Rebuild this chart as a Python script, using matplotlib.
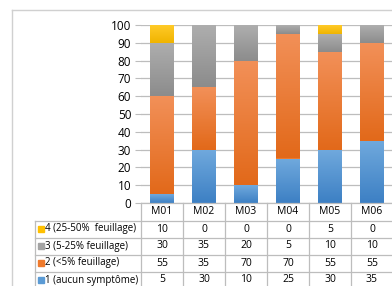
import numpy as np
import matplotlib
matplotlib.use("Agg")
import matplotlib.pyplot as plt
from matplotlib.transforms import blended_transform_factory
from matplotlib.lines import Line2D
from matplotlib.patches import Rectangle
from matplotlib.colors import LinearSegmentedColormap

plt.rcParams['font.family'] = ['Open Sans', 'DejaVu Sans']

# data
months = ['M01', 'M02', 'M03', 'M04', 'M05', 'M06']
s1 = [5, 30, 10, 25, 30, 35]     # 1 (aucun symptôme)
s2 = [55, 35, 70, 70, 55, 55]    # 2 (<5% feuillage)
s3 = [30, 35, 20, 5, 10, 10]     # 3 (5-25% feuillage)
s4 = [10, 0, 0, 0, 5, 0]         # 4 (25-50%  feuillage)
labels = ['1 (aucun symptôme)', '2 (<5% feuillage)', '3 (5-25% feuillage)', '4 (25-50%  feuillage)']
colors = ['#5B9BD5', '#EF7A2C', '#A3A3A3', '#FFC000']
# gradient (bottom, top) for each series, like the excel fill
grads = [('#3D80C4', '#70A9DD'), ('#E2691A', '#F29058'), ('#8C8C8C', '#AEAEAE'), ('#F0B400', '#FFCA28')]
series = [s1, s2, s3, s4]

W, H = 392, 286
fig = plt.figure(figsize=(W / 100, H / 100), dpi=100)

def fx(px):
    return px / W

def fy(py):
    return 1 - py / H

# outer chart border (cropped)
fig.add_artist(Line2D([fx(12), fx(12)], [fy(10), fy(290)], color='#D0D0D0', lw=1))
fig.add_artist(Line2D([fx(12), fx(400)], [fy(10), fy(10)], color='#D0D0D0', lw=1))

ax = fig.add_axes([fx(141), fy(203), fx(393) - fx(141), fy(25) - fy(203)])
x = np.arange(len(months))
bottom = np.zeros(len(months))
grad = np.linspace(0, 1, 64).reshape(-1, 1)
for vals, c, g in zip(series, colors, grads):
    bars = ax.bar(x, vals, bottom=bottom, width=0.57, color=c, zorder=3)
    cmap = LinearSegmentedColormap.from_list('g', list(g))
    for b in bars:
        if b.get_height() <= 0:
            continue
        bx, by = b.get_x(), b.get_y()
        im = ax.imshow(grad, extent=[bx, bx + b.get_width(), by, by + b.get_height()],
                       origin='lower', cmap=cmap, aspect='auto', zorder=4,
                       interpolation='bilinear')
        im.set_clip_path(b)
    bottom += np.array(vals)

ax.set_xlim(-0.5, len(months) - 0.5)
ax.set_ylim(0, 100)
ax.set_yticks(range(0, 101, 10))
ax.set_xticks([])
ax.yaxis.grid(True, color='#BDBDBD', lw=0.9, zorder=0)
ax.tick_params(axis='y', length=4, color='#BDBDBD', labelsize=8.5, pad=3)
for s in ax.spines.values():
    s.set_visible(False)

# data table under the chart
tr = blended_transform_factory(ax.transData, fig.transFigure)
row_px = [203, 220.5, 237.5, 254.5, 271.5, 288.5]
lc = '#BDBDBD'
n = len(months)
# horizontal lines
fig.add_artist(Line2D([fx(141), 1.01], [fy(row_px[0])] * 2, color=lc, lw=0.9))
for py in row_px[1:]:
    fig.add_artist(Line2D([fx(35), 1.01], [fy(py)] * 2, color=lc, lw=0.9))
# vertical lines
for i in range(n + 1):
    ax.add_line(Line2D([i - 0.5, i - 0.5], [fy(row_px[0]), fy(row_px[-1])],
                       color=lc, lw=0.9, transform=tr, clip_on=False))
fig.add_artist(Line2D([fx(35), fx(35)], [fy(row_px[1]), fy(row_px[-1])], color=lc, lw=0.9))

# header
for i, m in enumerate(months):
    ax.text(i, fy((row_px[0] + row_px[1]) / 2), m, transform=tr, ha='center',
            va='center', fontsize=7.5, clip_on=False)
# rows, top row is series 4
for r, k in enumerate([3, 2, 1, 0]):
    yc = fy((row_px[r + 1] + row_px[r + 2]) / 2)
    fig.add_artist(Rectangle((fx(38), yc - 3 / H), 6 / W, 6 / H, color=colors[k]))
    fig.text(fx(45), yc, labels[k], ha='left', va='center', fontsize=7.0)
    for i, v in enumerate(series[k]):
        ax.text(i, yc, str(v), transform=tr, ha='center', va='center',
                fontsize=7.5, clip_on=False)

fig.savefig('out.png', dpi=100)
